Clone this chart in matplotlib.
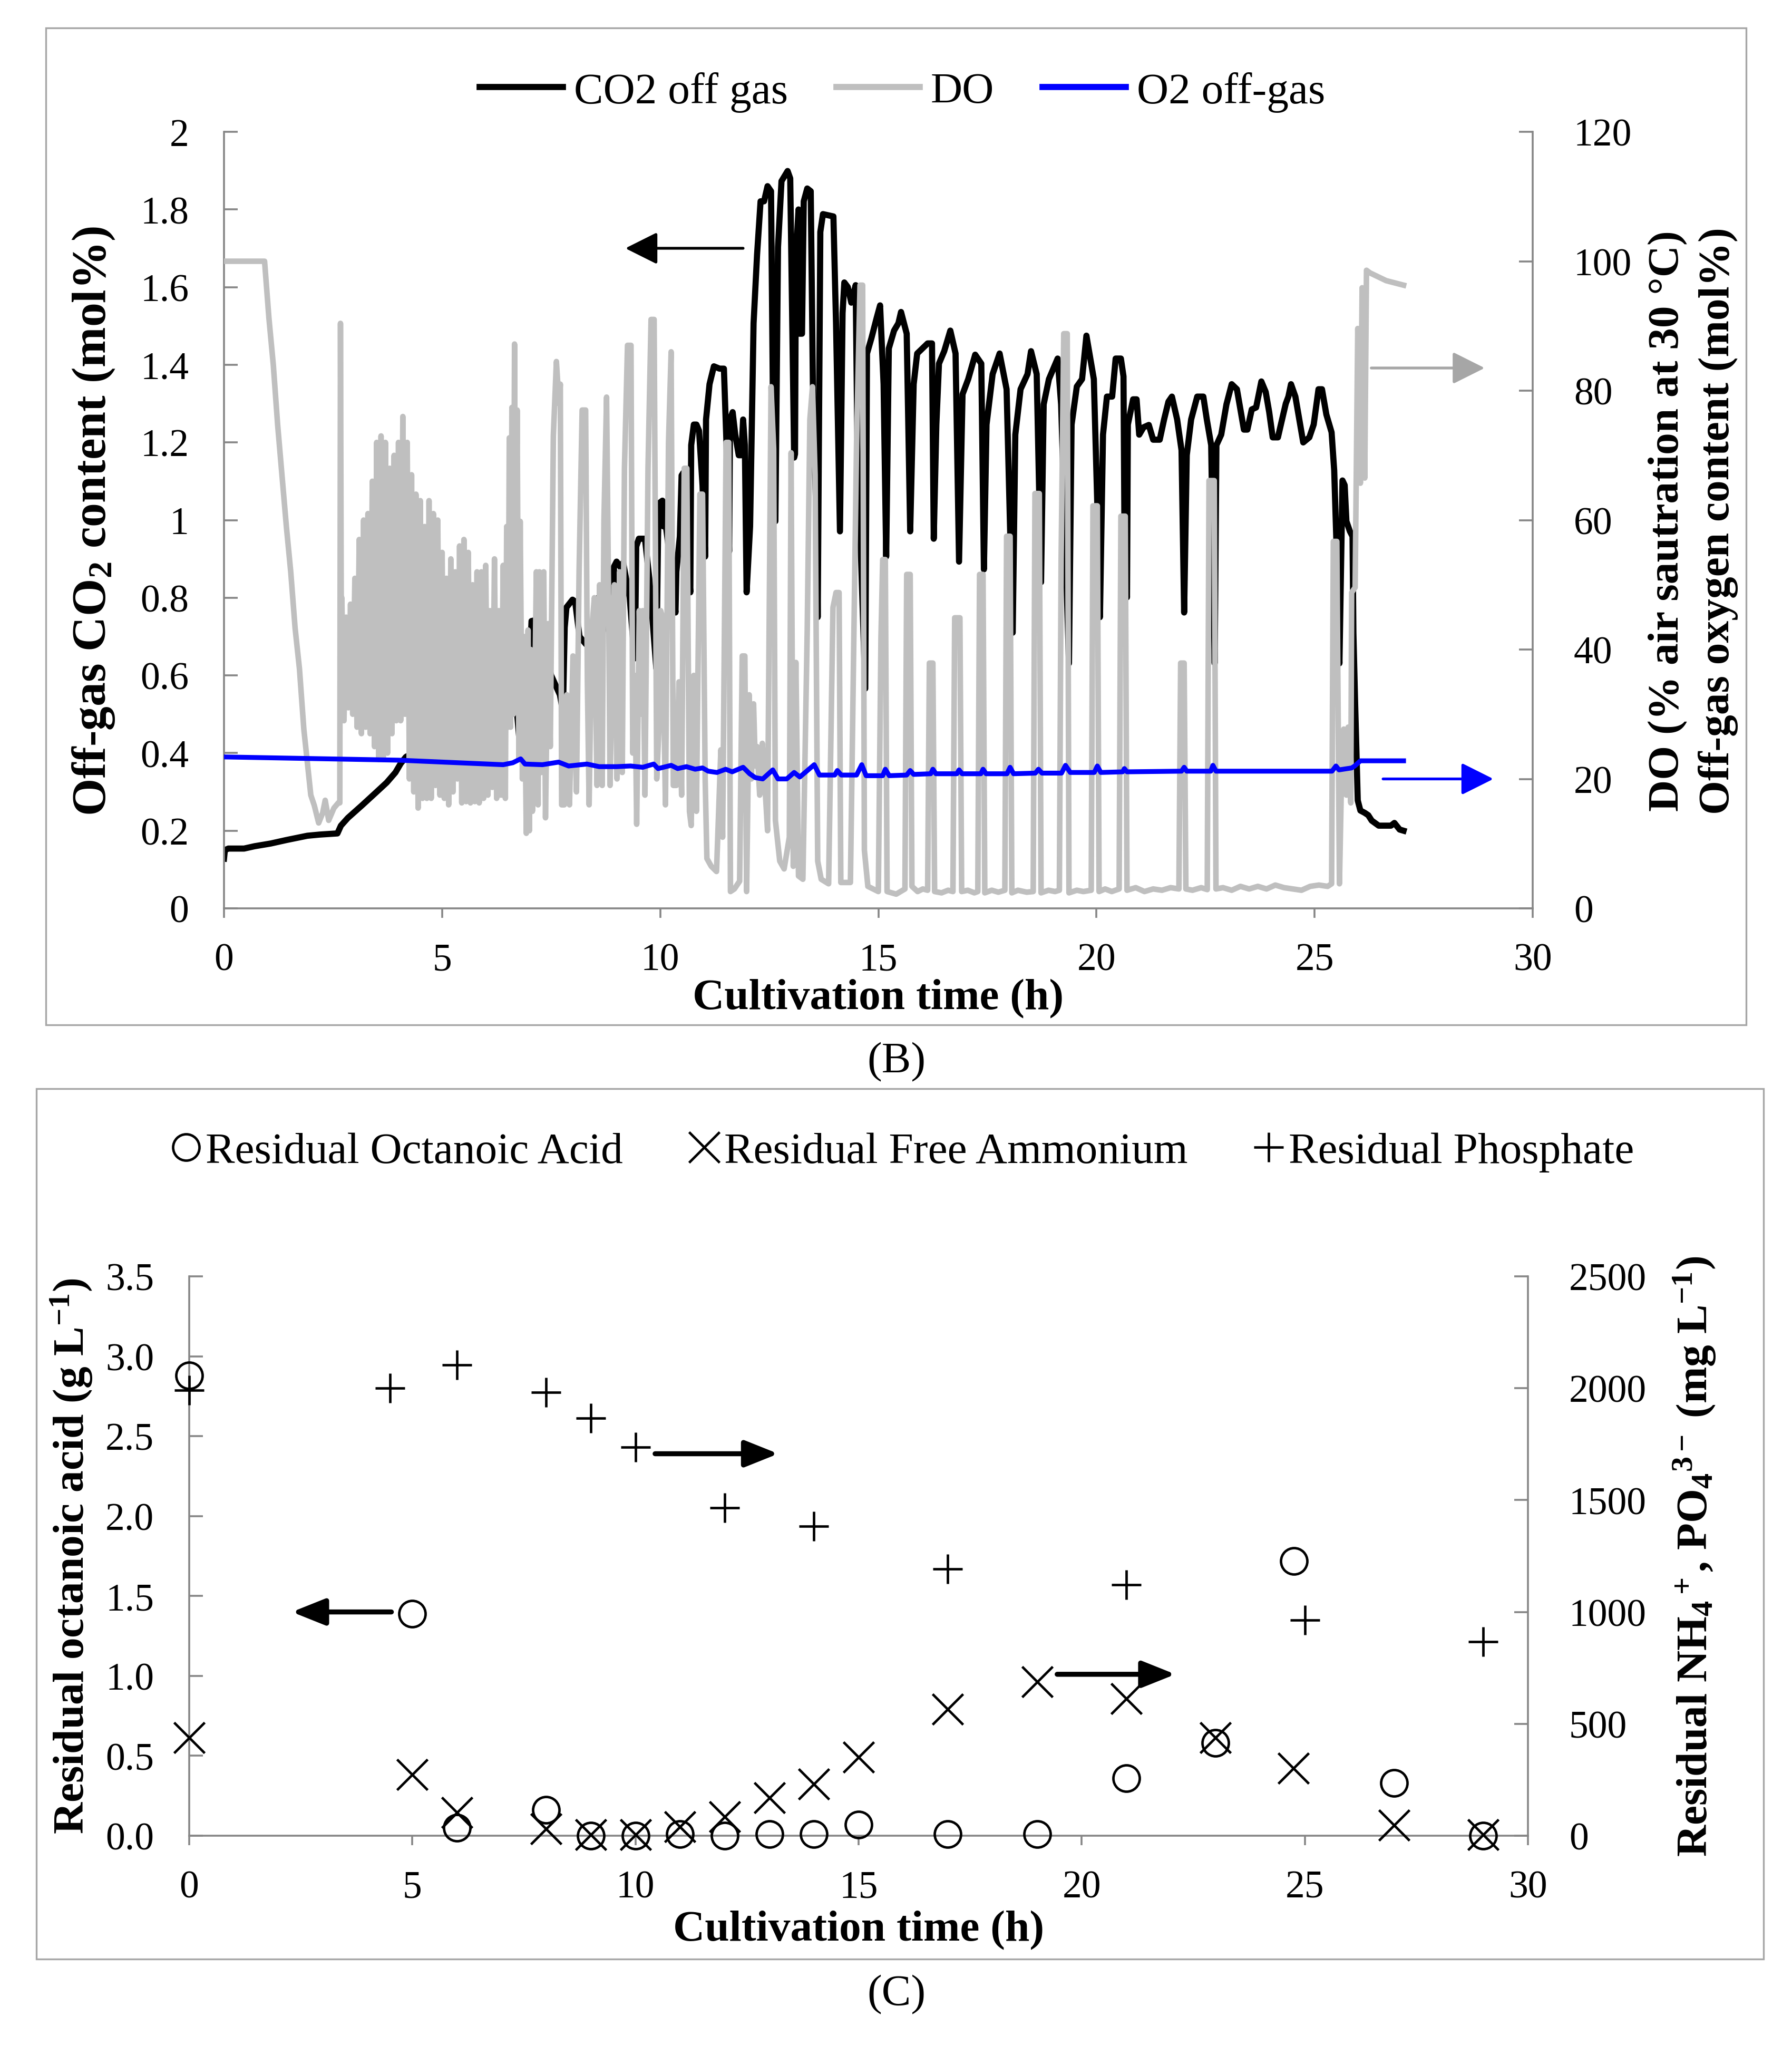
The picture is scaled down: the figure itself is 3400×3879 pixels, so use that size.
import matplotlib
matplotlib.use('Agg')
import matplotlib.pyplot as plt
from matplotlib.lines import Line2D
from matplotlib.patches import Rectangle
from matplotlib.ticker import FuncFormatter, MultipleLocator

plt.rcParams['font.family'] = ['Liberation Serif', 'DejaVu Serif']
plt.rcParams['mathtext.fontset'] = 'custom'
plt.rcParams['mathtext.rm'] = 'Liberation Serif'
plt.rcParams['mathtext.bf'] = 'Liberation Serif:bold'
plt.rcParams['mathtext.it'] = 'Liberation Serif:italic'
plt.rcParams['mathtext.default'] = 'regular'

# ---------------- Panel B data ----------------
co2_t = [0.00, 0.02, 0.10, 0.46, 0.70, 1.07, 1.43, 1.91, 2.19, 2.60, 2.68, 2.84, 3.16, 3.48, 3.73,
         3.93, 4.05, 4.17, 4.50, 5.00, 5.50, 6.00, 6.40, 6.67, 6.81, 6.90, 7.00, 7.05, 7.13, 7.20,
         7.27, 7.35, 7.50, 7.70, 7.77, 7.81, 7.85, 7.99, 8.05, 8.15, 8.30, 8.44, 8.58, 8.70, 8.85,
         8.92, 8.94, 9.00, 9.08, 9.15, 9.30, 9.40, 9.42, 9.45, 9.51, 9.65, 9.75, 9.88, 9.91, 9.95,
         9.97, 10.05, 10.07, 10.13, 10.25, 10.35, 10.37, 10.45, 10.49, 10.53, 10.60, 10.69, 10.71,
         10.77, 10.83, 10.89, 10.97, 11.03, 11.05, 11.13, 11.23, 11.36, 11.46, 11.52, 11.58, 11.60,
         11.66, 11.72, 11.80, 11.86, 11.90, 11.94, 11.98, 12.06, 12.14, 12.22, 12.30, 12.38, 12.46,
         12.54, 12.58, 12.64, 12.70, 12.78, 12.92, 12.98, 13.07, 13.09, 13.11, 13.17, 13.19, 13.25,
         13.29, 13.37, 13.45, 13.51, 13.59, 13.61, 13.67, 13.73, 13.97, 14.03, 14.12, 14.18, 14.22,
         14.30, 14.38, 14.48, 14.52, 14.70, 14.74, 14.84, 14.96, 15.04, 15.12, 15.18, 15.24, 15.36,
         15.46, 15.52, 15.65, 15.73, 15.81, 15.89, 16.01, 16.13, 16.23, 16.27, 16.33, 16.39, 16.51,
         16.65, 16.77, 16.85, 16.93, 17.06, 17.22, 17.36, 17.42, 17.48, 17.62, 17.78, 17.94, 18.08,
         18.14, 18.26, 18.42, 18.50, 18.63, 18.73, 18.79, 18.91, 19.11, 19.19, 19.37, 19.43, 19.55,
         19.67, 19.77, 19.94, 20.02, 20.08, 20.15, 20.24, 20.36, 20.44, 20.56, 20.62, 20.64, 20.70,
         20.72, 20.84, 20.92, 20.98, 21.08, 21.20, 21.30, 21.45, 21.55, 21.65, 21.73, 21.85, 21.95,
         22.01, 22.07, 22.17, 22.31, 22.45, 22.53, 22.63, 22.71, 22.75, 22.86, 22.98, 23.10, 23.22,
         23.38, 23.46, 23.56, 23.66, 23.78, 23.88, 23.96, 24.04, 24.16, 24.24, 24.34, 24.40, 24.46,
         24.56, 24.66, 24.74, 24.88, 24.98, 25.09, 25.17, 25.27, 25.39, 25.45, 25.50, 25.57, 25.61,
         25.64, 25.69, 25.73, 25.81, 25.87, 25.89, 25.93, 25.99, 26.05, 26.15, 26.23, 26.31, 26.47,
         26.75, 26.83, 26.95, 27.04]
co2_v = [0.128, 0.150, 0.154, 0.154, 0.160, 0.167, 0.176, 0.187, 0.190, 0.193, 0.213, 0.233, 0.265,
         0.298, 0.324, 0.350, 0.373, 0.390, 0.410, 0.440, 0.470, 0.510, 0.550, 0.566, 0.383, 0.450,
         0.600, 0.740, 0.742, 0.720, 0.697, 0.660, 0.600, 0.550, 0.507, 0.723, 0.775, 0.795, 0.790,
         0.700, 0.680, 0.723, 0.800, 0.780, 0.700, 0.658, 0.880, 0.893, 0.880, 0.890, 0.800, 0.660,
         0.644, 0.932, 0.952, 0.952, 0.850, 0.660, 0.618, 0.958, 1.043, 1.050, 0.984, 0.984, 0.880,
         0.762, 0.867, 0.958, 1.115, 1.122, 0.950, 0.814, 1.193, 1.246, 1.246, 1.230, 1.089, 0.906,
         1.259, 1.350, 1.396, 1.390, 1.390, 1.193, 0.919, 1.259, 1.278, 1.220, 1.167, 1.167, 1.259,
         1.193, 0.814, 0.984, 1.507, 1.684, 1.821, 1.821, 1.860, 1.847, 1.350, 0.997, 1.703, 1.873,
         1.899, 1.880, 1.161, 1.170, 1.677, 1.800, 1.480, 1.480, 1.821, 1.854, 1.847, 1.246, 0.984,
         0.750, 1.742, 1.788, 1.782, 1.507, 0.971, 1.533, 1.612, 1.600, 1.560, 1.605, 1.193, 0.566,
         1.429, 1.468, 1.520, 1.553, 1.350, 0.906, 1.442, 1.488, 1.507, 1.536, 1.480, 0.971, 1.350,
         1.429, 1.442, 1.455, 1.455, 0.952, 1.246, 1.403, 1.435, 1.488, 1.429, 0.893, 1.324, 1.363,
         1.426, 1.403, 0.873, 1.246, 1.376, 1.429, 1.337, 0.710, 1.220, 1.337, 1.376, 1.435, 1.376,
         0.840, 1.298, 1.363, 1.416, 1.298, 0.631, 1.246, 1.344, 1.363, 1.475, 1.363, 1.037, 0.750,
         1.220, 1.318, 1.318, 1.416, 1.416, 1.370, 1.000, 0.801, 1.246, 1.311, 1.311, 1.220, 1.239,
         1.245, 1.207, 1.207, 1.259, 1.305, 1.318, 1.259, 1.180, 0.762, 1.167, 1.259, 1.318, 1.318,
         1.259, 1.193, 0.631, 1.193, 1.220, 1.298, 1.350, 1.337, 1.233, 1.233, 1.285, 1.290, 1.357,
         1.330, 1.278, 1.213, 1.213, 1.252, 1.300, 1.318, 1.350, 1.318, 1.252, 1.200, 1.213, 1.246,
         1.337, 1.337, 1.272, 1.226, 1.128, 0.945, 0.631, 0.900, 1.102, 1.090, 0.997, 0.971, 0.958,
         0.710, 0.527, 0.278, 0.252, 0.246, 0.240, 0.226, 0.213, 0.213, 0.220, 0.203, 0.200]

do_t = [0.00, 0.93, 1.03, 1.13, 1.23, 1.33, 1.43, 1.53, 1.63, 1.73, 1.83, 1.91, 1.99, 2.07, 2.17,
        2.26, 2.32, 2.40, 2.52, 2.62, 2.655, 2.67, 2.69,
        2.70, 2.75, 2.80, 2.85, 2.90, 2.95, 3.00, 3.05, 3.10, 3.15, 3.20, 3.25, 3.30, 3.35, 3.40,
        3.45, 3.50, 3.55, 3.60, 3.65, 3.70, 3.75, 3.80, 3.85, 3.90, 3.95, 4.00, 4.05, 4.10, 4.15,
        4.20, 4.25, 4.30, 4.35, 4.40, 4.45, 4.50, 4.55, 4.60, 4.65, 4.70, 4.75, 4.80, 4.85, 4.90,
        4.95, 5.00, 5.05, 5.10, 5.15, 5.20, 5.25, 5.30, 5.35, 5.40, 5.45, 5.50, 5.55, 5.60, 5.65,
        5.70, 5.75, 5.80, 5.85, 5.90, 5.95, 6.00, 6.05, 6.10, 6.15, 6.20, 6.25, 6.30, 6.35, 6.40,
        6.45, 6.48, 6.51, 6.54, 6.57, 6.60, 6.63, 6.66, 6.69, 6.72, 6.76, 6.79, 6.84, 6.88, 6.93,
        6.97, 7.00, 7.03, 7.07, 7.12, 7.16, 7.20, 7.23, 7.27, 7.33, 7.37, 7.43, 7.48, 7.55, 7.62,
        7.68, 7.71, 7.74, 7.80, 7.86, 7.92, 8.00, 8.08, 8.14, 8.21, 8.29, 8.33, 8.37, 8.43, 8.49,
        8.55, 8.61, 8.67, 8.71, 8.77, 8.82, 8.85, 8.90, 8.95, 9.01, 9.07, 9.13, 9.18, 9.25, 9.33,
        9.37, 9.42, 9.46, 9.52, 9.57, 9.60, 9.65, 9.72, 9.79, 9.86, 9.92, 9.97, 10.01,
        10.05, 10.12, 10.19, 10.25, 10.30, 10.37, 10.43, 10.49, 10.55, 10.61, 10.67, 10.71, 10.77,
        10.83, 10.91, 10.97, 11.03, 11.07, 11.17, 11.29, 11.39, 11.43, 11.51, 11.57, 11.61, 11.70,
        11.82, 11.88, 11.94, 11.98, 12.04, 12.09, 12.14, 12.18, 12.22, 12.28, 12.34, 12.40, 12.46,
        12.54, 12.60, 12.64, 12.74, 12.84, 12.96, 13.00, 13.05, 13.11, 13.17, 13.27, 13.37, 13.43,
        13.49, 13.55, 13.61, 13.69, 13.86, 13.96, 14.03, 14.10, 14.14, 14.36, 14.50, 14.58, 14.64,
        14.68, 14.76, 15.00, 15.06, 15.10, 15.16, 15.20, 15.41, 15.61, 15.65, 15.73, 15.77, 15.90,
        16.02, 16.13, 16.17, 16.25, 16.29, 16.45, 16.60, 16.71, 16.75, 16.87, 16.91, 17.05, 17.20,
        17.28, 17.32, 17.40, 17.44, 17.60, 17.75, 17.90, 17.94, 18.02, 18.06, 18.20, 18.40, 18.55,
        18.59, 18.69, 18.73, 18.90, 19.05, 19.15, 19.19, 19.25, 19.33, 19.37, 19.55, 19.70, 19.88,
        19.92, 20.02, 20.06, 20.20, 20.35, 20.52, 20.56, 20.66, 20.70, 20.90, 21.10, 21.30, 21.50,
        21.70, 21.89, 21.93, 22.01, 22.05, 22.20, 22.40, 22.54, 22.58, 22.70, 22.74, 22.90, 23.10,
        23.30, 23.50, 23.70, 23.90, 24.10, 24.30, 24.50, 24.70, 24.90, 25.10, 25.30, 25.39, 25.43,
        25.51, 25.57, 25.61, 25.67, 25.73, 25.77, 25.83, 25.85, 25.93, 25.99, 26.05, 26.09, 26.15,
        26.19, 26.27, 26.64, 27.04]
do_v = [100, 100, 91.2, 84, 74.7, 66.9, 59, 52, 43.3, 37, 27.7, 22.6, 17.5, 15.9, 13.2,
        14.7, 16.7, 13.6, 15.5, 16.3, 16.3, 90.4, 40,
        48, 29, 45, 31, 47, 30, 51, 28, 57, 27, 60, 28, 61, 27, 66,
        25, 72, 23, 73, 23, 72, 24, 68, 27, 70, 29, 72, 29, 76, 30,
        72, 20, 67, 18, 64, 15.5, 63, 17, 59, 17, 63, 17, 61, 19, 60,
        17.5, 55, 17, 51, 16, 54, 18, 52, 20, 56, 16.3, 57, 16.5, 55, 16.3,
        50, 16.5, 52, 16.3, 52, 17, 53, 17.5, 46, 18.7, 54, 17, 46, 17.5, 53,
        17, 59, 28, 72.7, 28, 77.4, 30, 87.2, 40, 77, 23, 59.8, 20, 42, 11.6,
        43, 12, 40, 15, 30, 52, 16, 52, 21, 52, 14, 44, 25, 73, 84.5,
        78, 81, 16, 16, 33, 16, 39, 18, 52, 77, 77, 35, 16, 43, 48,
        19, 50, 19, 60, 79, 45, 19, 38, 50, 20, 52, 21, 68, 87, 87,
        24, 36, 13, 46, 30, 46, 17.5, 68, 91, 91, 20, 28, 46,
        45, 16, 72, 86, 19, 19, 35, 17.5, 68, 68, 15, 12.8, 36,
        15, 64, 64, 20, 7.7, 6.5, 5.7, 24.5, 11, 72, 72, 2.6, 3.0,
        4.2, 39, 39, 2.6, 33, 20, 31.6, 22, 25, 17.5, 25.5, 19, 12,
        80.6, 71, 13.6, 7.3, 6.1, 11, 70.4, 6.5, 38, 5, 4.5, 43, 75.5,
        80.6, 67, 7.3, 4.5, 3.8, 46.5, 48.8, 48.8, 4, 4, 71.6, 96.3, 96.3,
        9, 3.4, 2.6, 41.8, 53.9, 53.9, 2.6, 2.2, 3, 51.6, 51.6, 3.4, 2.6,
        3.0, 2.8, 37.9, 37.9, 2.6, 2.4, 2.8, 2.6, 44.9, 44.9, 2.6, 2.8, 2.4,
        2.6, 51.6, 51.6, 2.4, 2.8, 2.5, 2.8, 57.5, 57.5, 2.4, 2.8, 2.5, 2.6,
        64.1, 64.1, 2.4, 2.8, 2.6, 2.8, 54, 88.8, 88.8, 2.4, 2.8, 2.6, 2.8,
        62.2, 62.2, 2.6, 3.0, 2.6, 3.0, 60.6, 60.6, 2.8, 3.2, 2.6, 3.0, 2.8,
        3.2, 3.0, 37.9, 37.9, 3.0, 2.8, 3.2, 2.9, 66.1, 66.1, 3.0, 3.2, 2.8,
        3.4, 3.0, 3.4, 3.0, 3.6, 3.2, 3.0, 2.8, 3.4, 3.6, 3.4, 3.8, 56.7,
        56.7, 3.8, 17.5, 27.7, 17.5, 28, 16.3, 48.8, 49.6, 89.6, 65.7, 95.9, 66.5,
        98.6, 98.2, 97, 96.3]

o2_t = [0.0, 4.0, 6.40, 6.62, 6.80, 6.90, 7.30, 7.67, 7.90, 8.32, 8.60, 9.00, 9.32, 9.60, 9.85,
        9.95, 10.25, 10.40, 10.60, 10.80, 10.97, 11.10, 11.30, 11.50, 11.65, 11.90, 12.05, 12.18,
        12.35, 12.58, 12.70, 12.90, 13.07, 13.20, 13.53, 13.65, 14.00, 14.06, 14.15, 14.50, 14.62,
        14.72, 15.10, 15.16, 15.25, 15.65, 15.73, 15.81, 16.20, 16.25, 16.32, 16.80, 16.85, 16.92,
        17.35, 17.40, 17.47, 17.95, 18.02, 18.10, 18.60, 18.67, 18.75, 19.20, 19.29, 19.40, 19.95,
        20.02, 20.10, 20.60, 20.64, 20.70, 21.95, 22.01, 22.07, 22.62, 22.67, 22.74, 25.40, 25.49,
        25.56, 25.85, 25.92, 26.05, 27.04]
o2_v = [23.4, 22.9, 22.2, 22.5, 23.1, 22.3, 22.2, 22.6, 22.0, 22.3, 21.9, 21.9, 22.0, 21.8, 22.3,
        21.6, 22.1, 21.6, 21.9, 21.5, 21.7, 21.2, 21.0, 21.5, 21.1, 21.8, 20.8, 20.2,
        20.0, 21.4, 20.0, 20.0, 21.0, 20.3, 22.2, 20.6, 20.6, 21.3, 20.6, 20.6, 22.2,
        20.5, 20.5, 21.5, 20.5, 20.6, 21.3, 20.7, 20.8, 21.5, 20.8, 20.8, 21.4, 20.8,
        20.8, 21.5, 20.8, 20.8, 21.8, 20.8, 20.9, 21.5, 20.9, 20.9, 22.1, 21.0, 21.0,
        22.0, 21.0, 21.1, 21.6, 21.1, 21.2, 21.8, 21.2, 21.2, 22.1, 21.2, 21.2, 22.0,
        21.4, 21.7, 22.0, 22.8, 22.8]

# ---------------- Panel C data ----------------
oa_t = [0, 5, 6, 8, 9, 10, 11, 12, 13, 14, 15, 17, 19, 21, 23, 24.75, 27, 29]
oa_v = [2.88, 1.39, 0.05, 0.16, 0.0, 0.0, 0.01, 0.0, 0.01, 0.01, 0.07, 0.01, 0.01, 0.36, 0.58, 1.72, 0.33, 0.0]
nh4_t = [0, 5, 6, 8, 9, 10, 11, 12, 13, 14, 15, 17, 19, 21, 23, 24.75, 27, 29]
nh4_v = [438, 274, 104, 30, 5, 5, 40, 85, 170, 232, 350, 565, 689, 613, 438, 302, 48, 5]
po4_t = [0, 4.5, 6, 8, 9, 10, 12, 14, 17, 21, 25, 29]
po4_v = [1990, 2000, 2104, 1982, 1867, 1737, 1466, 1384, 1192, 1121, 963, 867]

legend_b = ['CO2 off gas', 'DO', 'O2 off-gas']
legend_c = ['Residual Octanoic Acid', 'Residual Free Ammonium', 'Residual Phosphate']

# ---------------- styles ----------------
W, H = 3400, 3880
DPI = 200
AXC = '#868686'
FRAME = '#a6a6a6'
TICK_FS = 26.5
LAB_FS = 30
LEG_FS = 30
LW_CO2, LW_DO, LW_O2 = 4.2, 3.8, 3.3

fig = plt.figure(figsize=(W / DPI, H / DPI), dpi=DPI)

def fx(px):
    return px / W

def fy(py):
    return 1 - py / H

def box(x0, y0, x1, y1):
    return [fx(x0), fy(y1), fx(x1) - fx(x0), fy(y0) - fy(y1)]

# Frames
for (x0, y0, x1, y1) in [(87, 54, 3313, 1945), (69, 2066, 3346, 3717)]:
    fig.add_artist(Rectangle((fx(x0), fy(y1)), fx(x1) - fx(x0), fy(y0) - fy(y1),
                             transform=fig.transFigure, fill=False, edgecolor=FRAME, lw=1.2))

def style_axes(axL, axR):
    for ax in (axL, axR):
        for s in ax.spines.values():
            s.set_visible(False)
    axL.spines['left'].set_visible(True)
    axL.spines['bottom'].set_visible(True)
    axR.spines['right'].set_visible(True)
    for s in (axL.spines['left'], axL.spines['bottom'], axR.spines['right']):
        s.set_color(AXC)
        s.set_linewidth(1.3)
    axL.tick_params(axis='y', direction='in', length=9.5, width=1.3, color=AXC,
                    labelsize=TICK_FS, pad=24)
    axL.tick_params(axis='x', direction='out', length=6.5, width=1.3, color=AXC,
                    labelsize=TICK_FS, pad=17)
    axR.tick_params(axis='y', direction='in', length=9.5, width=1.3, color=AXC,
                    labelsize=TICK_FS, pad=28)
    axL.patch.set_visible(False)

# ---------------- Panel B ----------------
axB = fig.add_axes(box(425, 251, 2908, 1724))
axB.plot(co2_t, co2_v, color='black', lw=LW_CO2, solid_joinstyle='round', zorder=2)
axB.set_xlim(0, 30)
axB.set_ylim(0, 2)
axB.xaxis.set_major_locator(MultipleLocator(5))
axB.yaxis.set_major_locator(MultipleLocator(0.2))
axB.yaxis.set_major_formatter(FuncFormatter(lambda v, p: '%g' % round(v, 1)))
axB2 = axB.twinx()
axB2.plot(do_t, do_v, color='#bfbfbf', lw=LW_DO, solid_joinstyle='round')
axB2.plot(o2_t, o2_v, color='#0000ff', lw=LW_O2, solid_joinstyle='round')
axB2.set_ylim(0, 120)
axB2.yaxis.set_major_locator(MultipleLocator(20))
style_axes(axB, axB2)

arrow_kw = dict(arrowstyle='-|>', mutation_scale=47, shrinkA=0, shrinkB=0)
axB.annotate('', xy=(9.2, 1.70), xytext=(11.9, 1.70),
             arrowprops=dict(color='black', lw=1.9, **arrow_kw))
axB2.annotate('', xy=(28.9, 83.5), xytext=(26.3, 83.5), annotation_clip=False,
              arrowprops=dict(color='#a6a6a6', lw=1.9, **arrow_kw))
axB2.annotate('', xy=(29.1, 20), xytext=(26.57, 20), annotation_clip=False,
              arrowprops=dict(color='#0000ff', lw=1.9, **arrow_kw))

hB = [Line2D([], [], color='black', lw=LW_CO2),
      Line2D([], [], color='#bfbfbf', lw=LW_CO2),
      Line2D([], [], color='#0000ff', lw=LW_CO2)]
fig.legend(hB, legend_b, loc='center', bbox_to_anchor=(fx(1712), fy(175)), ncol=3,
           frameon=False, fontsize=LEG_FS, handlelength=1.9, handletextpad=0.25,
           columnspacing=1.1, borderpad=0)

fig.text(fx(178), fy(988), r'Off-gas CO$_2$ content (mol%)', rotation=90, ha='center',
         va='center', fontsize=33, fontweight='bold')
fig.text(fx(3165), fy(988), 'DO (% air sautration at 30 \u00b0C)', rotation=90, ha='center',
         va='center', fontsize=LAB_FS, fontweight='bold')
fig.text(fx(3260), fy(988), 'Off-gas oxygen content (mol%)', rotation=90, ha='center',
         va='center', fontsize=LAB_FS, fontweight='bold')
fig.text(fx(1666), fy(1895), 'Cultivation time (h)', ha='center', va='center',
         fontsize=LAB_FS, fontweight='bold')
fig.text(fx(1701), fy(2015), '(B)', ha='center', va='center', fontsize=LAB_FS)

# ---------------- Panel C ----------------
axC = fig.add_axes(box(359, 2422, 2899, 3483))
axC.set_xlim(0, 30)
axC.set_ylim(0, 3.5)
axC.xaxis.set_major_locator(MultipleLocator(5))
axC.yaxis.set_major_locator(MultipleLocator(0.5))
axC.yaxis.set_major_formatter(FuncFormatter(lambda v, p: '%.1f' % v))
axC2 = axC.twinx()
axC2.set_ylim(0, 2500)
axC2.yaxis.set_major_locator(MultipleLocator(500))
style_axes(axC, axC2)

mk = dict(linestyle='none', color='black', clip_on=False)
axC.plot(oa_t, oa_v, marker='o', markersize=18, markerfacecolor='none',
         markeredgewidth=1.7, zorder=3, **mk)
axC2.plot(nh4_t, nh4_v, marker='x', markersize=21, markeredgewidth=1.7, **mk)
axC2.plot(po4_t, po4_v, marker='+', markersize=20, markeredgewidth=1.7, **mk)

arrow_c = dict(arrowstyle='-|>,head_length=0.4,head_width=0.16', mutation_scale=48,
               shrinkA=0, shrinkB=0, color='black', lw=3.4)
axC.annotate('', xy=(2.3, 1.40), xytext=(4.53, 1.40), arrowprops=arrow_c)
axC.annotate('', xy=(13.2, 2.39), xytext=(10.44, 2.39), arrowprops=arrow_c)
axC.annotate('', xy=(22.1, 1.01), xytext=(19.45, 1.01), arrowprops=arrow_c)

hC = [Line2D([], [], linestyle='none', marker='o', markersize=18, markerfacecolor='none',
             markeredgecolor='black', markeredgewidth=1.7),
      Line2D([], [], linestyle='none', marker='x', markersize=21, color='black',
             markeredgewidth=1.7),
      Line2D([], [], linestyle='none', marker='+', markersize=20, color='black',
             markeredgewidth=1.7)]
fig.legend(hC, legend_c, loc='center', bbox_to_anchor=(fx(1712), fy(2186)), ncol=3,
           frameon=False, fontsize=LEG_FS, handlelength=0.7, handletextpad=0.1,
           columnspacing=1.5, borderpad=0)

fig.text(fx(136), fy(2952), r'Residual octanoic acid (g L$^{-1}$)', rotation=90, ha='center',
         va='center', fontsize=LAB_FS, fontweight='bold')
fig.text(fx(3215), fy(2952), r'Residual NH$_4$$^+$, PO$_4$$^{3-}$ (mg L$^{-1}$)', rotation=90,
         ha='center', va='center', fontsize=LAB_FS, fontweight='bold')
fig.text(fx(1629), fy(3662), 'Cultivation time (h)', ha='center', va='center',
         fontsize=LAB_FS, fontweight='bold')
fig.text(fx(1701), fy(3784), '(C)', ha='center', va='center', fontsize=LAB_FS)

fig.savefig('out.png', dpi=DPI)
